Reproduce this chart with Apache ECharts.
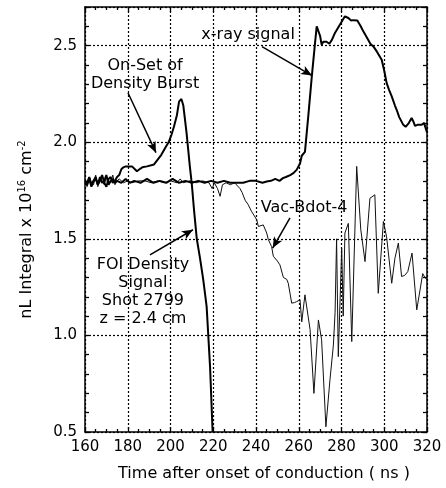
<!DOCTYPE html>
<html>
<head>
<meta charset="utf-8">
<script src="https://cdn.jsdelivr.net/npm/echarts@6/dist/echarts.min.js"></script>
<style>
  html, body { margin: 0; padding: 0; background: #fff; }
  #chart { width: 446px; height: 488px; }
</style>
</head>
<body>
<div id="chart"></div>
<script>
// FOI density signal (shot 2799, z = 2.4 cm)
var foiTime = [160, 161, 162, 163, 164, 165, 166, 167, 168, 169, 170, 171, 172, 173, 174, 175, 176, 177, 178, 179, 180, 182, 184.3, 185.5, 186.8, 189, 192.3, 194, 195.7, 197.5, 199.3, 200.5, 201.6, 203, 204, 205.1, 206, 207.5, 209, 210, 211, 212.3, 213.8, 215.3, 216.9, 218.5, 219.7];
var foiDensity = [1.79, 1.78, 1.81, 1.77, 1.80, 1.82, 1.78, 1.80, 1.83, 1.79, 1.77, 1.81, 1.82, 1.79, 1.80, 1.82, 1.83, 1.86, 1.87, 1.875, 1.875, 1.875, 1.85, 1.86, 1.87, 1.875, 1.885, 1.91, 1.935, 1.97, 2.004, 2.04, 2.08, 2.14, 2.21, 2.224, 2.19, 2.05, 1.88, 1.78, 1.65, 1.50, 1.40, 1.29, 1.15, 0.84, 0.5];

// x-ray signal
var xrayTime = [160, 161, 162, 163, 164, 165, 166, 167, 168, 169, 170, 171, 172, 173, 174, 175, 177, 179, 181, 183, 186, 189, 192, 195, 198, 201, 204, 207, 210, 213, 216, 219, 222, 225, 228, 231, 234, 237, 240, 243, 245, 247, 249, 251, 252.6, 254, 256, 257.5, 259, 260.6, 261.4, 262.9, 264.5, 266.1, 267.5, 268.4, 269.2, 270, 270.7, 271.5, 272.3, 273, 274.3, 275.5, 277, 279.3, 281.6, 282.5, 283.2, 284.5, 285.5, 287.4, 289, 290.2, 292, 293.5, 294.9, 296.5, 298.8, 300, 301.1, 302.3, 303.5, 305, 305.8, 307, 308.9, 310, 311.3, 312.8, 313.5, 314.4, 315.5, 316.4, 317.5, 318.6, 319.3, 320];
var xraySignal = [1.80, 1.79, 1.82, 1.78, 1.80, 1.81, 1.78, 1.82, 1.79, 1.80, 1.83, 1.78, 1.80, 1.81, 1.79, 1.80, 1.79, 1.81, 1.79, 1.80, 1.79, 1.81, 1.79, 1.80, 1.79, 1.81, 1.79, 1.80, 1.79, 1.80, 1.79, 1.80, 1.79, 1.80, 1.79, 1.79, 1.79, 1.80, 1.80, 1.79, 1.797, 1.80, 1.81, 1.80, 1.814, 1.82, 1.83, 1.84, 1.857, 1.89, 1.93, 1.95, 2.14, 2.34, 2.50, 2.60, 2.61, 2.55, 2.505, 2.52, 2.526, 2.52, 2.51, 2.53, 2.567, 2.609, 2.652, 2.655, 2.643, 2.63, 2.632, 2.63, 2.60, 2.574, 2.54, 2.51, 2.496, 2.47, 2.427, 2.37, 2.307, 2.27, 2.237, 2.19, 2.168, 2.13, 2.09, 2.08, 2.096, 2.125, 2.11, 2.085, 2.09, 2.096, 2.09, 2.10, 2.09, 2.05];

// Vac-Bdot-4
var bdotTime = [160, 161, 162, 163, 164, 165, 166, 167, 168, 169, 170, 171, 172, 173, 174, 175, 176, 178, 180, 182, 185, 188, 191, 194, 197, 200, 203, 204.5, 206, 209, 212, 215, 218, 219.5, 220.5, 222, 223.2, 224.3, 226, 228, 230, 232.5, 233.5, 234.9, 236.4, 238, 240.3, 241.1, 243.4, 245, 245.8, 247.3, 248.1, 250, 251.2, 252.8, 254.4, 255.1, 256.7, 258, 259, 260.6, 261.4, 262.9, 265.3, 267.1, 269.2, 270.7, 272.7, 274.6, 276.2, 277, 277.7, 278.5, 279.3, 280.1, 280.8, 281.6, 283.2, 284.8, 287.1, 289, 291, 293.3, 295.6, 297.2, 299.6, 301.1, 303.5, 305, 306.6, 308.1, 309.5, 311, 313, 315.2, 318, 319, 320];
var bdotSignal = [1.80, 1.77, 1.82, 1.79, 1.78, 1.83, 1.77, 1.81, 1.80, 1.78, 1.82, 1.80, 1.79, 1.83, 1.78, 1.80, 1.81, 1.79, 1.80, 1.79, 1.80, 1.80, 1.79, 1.80, 1.79, 1.80, 1.79, 1.81, 1.79, 1.80, 1.79, 1.80, 1.79, 1.76, 1.79, 1.76, 1.72, 1.78, 1.79, 1.78, 1.79, 1.76, 1.74, 1.70, 1.676, 1.64, 1.60, 1.564, 1.572, 1.53, 1.495, 1.46, 1.41, 1.385, 1.365, 1.30, 1.29, 1.27, 1.167, 1.17, 1.175, 1.184, 1.07, 1.21, 1.03, 0.70, 1.08, 0.977, 0.527, 0.77, 0.95, 1.12, 1.50, 0.89, 0.88, 1.45, 1.10, 1.53, 1.58, 0.968, 1.875, 1.55, 1.382, 1.71, 1.728, 1.218, 1.59, 1.51, 1.27, 1.40, 1.478, 1.305, 1.31, 1.33, 1.426, 1.132, 1.32, 1.30, 1.288];

var xTicks = [160, 320, 20];   // min, max, step
var yTicks = [0.5, 2.7, 0.5];

function zip(t, v) {
  return t.map(function (x, i) { return [x, v[i]]; });
}

var font = 'DejaVu Sans';
var dotted = { color: '#000', width: 1.2, type: [2, 2] };
var frame = { color: '#000', width: 1.5 };

var chart = echarts.init(document.getElementById('chart'));

var option = {
  animation: false,
  backgroundColor: '#fff',
  textStyle: { fontFamily: font, color: '#000' },
  grid: { left: 85, right: 19, top: 7, bottom: 56 },
  xAxis: [
    {
      type: 'value', min: xTicks[0], max: xTicks[1], interval: xTicks[2],
      position: 'bottom',
      axisLine: { show: true, lineStyle: frame },
      axisTick: { show: true, inside: true, length: 5, lineStyle: { color: '#000', width: 1.3 } },
      minorTick: { show: true, splitNumber: 4, length: 3, lineStyle: { color: '#000', width: 1.3 } },
      splitLine: { show: true, lineStyle: dotted },
      axisLabel: { color: '#000', fontSize: 15, fontFamily: font, margin: 8 },
      name: 'Time after onset of conduction ( ns )',
      nameLocation: 'middle',
      nameGap: 34,
      nameTextStyle: { color: '#000', fontSize: 16, fontFamily: font, padding: [0, 0, 0, 16] }
    },
    {
      type: 'value', min: xTicks[0], max: xTicks[1], interval: xTicks[2],
      position: 'top',
      axisLine: { show: true, lineStyle: frame },
      axisTick: { show: true, inside: true, length: 5, lineStyle: { color: '#000', width: 1.3 } },
      minorTick: { show: true, splitNumber: 4, length: 3, lineStyle: { color: '#000', width: 1.3 } },
      splitLine: { show: false },
      axisLabel: { show: false }
    }
  ],
  yAxis: [
    {
      type: 'value', min: yTicks[0], max: yTicks[1], interval: 0.1,
      position: 'left',
      axisLine: { show: true, lineStyle: frame },
      axisTick: { show: true, inside: true, length: 4, lineStyle: { color: '#000', width: 1.3 } },
      splitLine: { show: false },
      axisLabel: {
        color: '#000', fontSize: 15, fontFamily: font, margin: 8,
        formatter: function (v) {
          return Math.abs(v * 2 - Math.round(v * 2)) < 1e-6 ? v.toFixed(1) : '';
        }
      },
      name: 'nL Integral x 10{sup|16} cm{sup|-2}',
      nameLocation: 'middle',
      nameGap: 48,
      nameTextStyle: {
        color: '#000', fontSize: 16, fontFamily: font, padding: [0, 20, 0, 0],
        rich: { sup: { fontSize: 10, fontFamily: font, color: '#000', padding: [0, 0, 10, 0] } }
      }
    },
    {
      type: 'value', min: yTicks[0], max: yTicks[1], interval: 0.1,
      position: 'right',
      axisLine: { show: true, lineStyle: frame },
      axisTick: { show: true, inside: true, length: 4, lineStyle: { color: '#000', width: 1.3 } },
      splitLine: { show: false },
      axisLabel: { show: false }
    },
    {
      type: 'value', min: yTicks[0], max: yTicks[1], interval: yTicks[2],
      position: 'left',
      axisLine: { show: false },
      axisTick: { show: false },
      axisLabel: { show: false },
      splitLine: { show: true, lineStyle: dotted }
    }
  ],
  series: [
    {
      name: 'Vac-Bdot-4', type: 'line', data: zip(bdotTime, bdotSignal),
      showSymbol: false, lineStyle: { color: '#111', width: 1 }, z: 3
    },
    {
      name: 'FOI Density Signal', type: 'line', data: zip(foiTime, foiDensity),
      showSymbol: false, lineStyle: { color: '#000', width: 2 }, z: 4
    },
    {
      name: 'x-ray signal', type: 'line', data: zip(xrayTime, xraySignal),
      showSymbol: false, lineStyle: { color: '#000', width: 2 }, z: 4,
      markPoint: {
        silent: true,
        symbol: 'circle', symbolSize: 1,
        itemStyle: { color: 'rgba(0,0,0,0)' },
        label: {
          show: true, position: 'inside', formatter: '{b}',
          color: '#000', fontSize: 16, fontFamily: font, lineHeight: 18, align: 'center'
        },
        data: [
          { name: 'x-ray signal', coord: [236.3, 2.557] },
          { name: 'On-Set of\nDensity Burst', coord: [188.1, 2.347] },
          { name: 'Vac-Bdot-4', coord: [262.5, 1.661] },
          { name: 'FOI Density\nSignal\nShot 2799\nz = 2.4 cm', coord: [187.1, 1.225] }
        ]
      },
      markLine: {
        silent: true,
        symbol: ['none', 'arrow'],
        symbolSize: [7, 11],
        label: { show: false },
        lineStyle: { color: '#000', width: 1.5, type: 'solid' },
        data: [
          [{ coord: [242.8, 2.495] }, { coord: [266.2, 2.345] }],
          [{ coord: [180.1, 2.256] }, { coord: [193.2, 1.946] }],
          [{ coord: [255.9, 1.609] }, { coord: [247.8, 1.452] }],
          [{ coord: [190.4, 1.417] }, { coord: [210.5, 1.547] }]
        ]
      }
    }
  ]
};

chart.setOption(option);
window.addEventListener('resize', function () {
  chart.resize();
});
</script>
</body>
</html>
